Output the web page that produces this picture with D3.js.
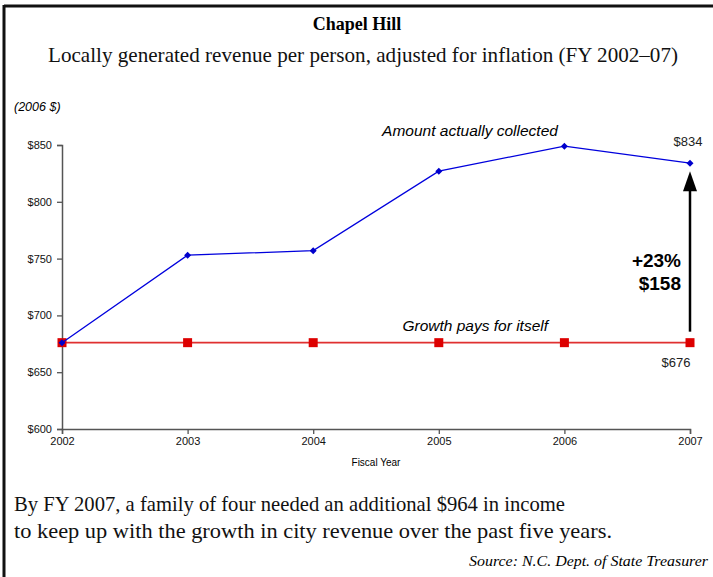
<!DOCTYPE html>
<html>
<head>
    <title>Chapel Hill revenue</title>
    <script src="https://cdnjs.cloudflare.com/ajax/libs/d3/7.8.5/d3.min.js"></script>
    <style>
        html, body {
            margin: 0;
            padding: 0;
            background: white;
        }
        svg text.serif {
            font-family: 'Liberation Serif', 'DejaVu Serif', serif;
        }
        svg text.sans {
            font-family: 'Liberation Sans', Arial, sans-serif;
        }
    </style>
</head>
<body>
    <div id="chart"></div>
    <script>
        const years = [2002, 2003, 2004, 2005, 2006, 2007];
        const collected = [676, 753, 757, 827, 849, 834];
        const growthPays = [676, 676, 676, 676, 676, 676];
        const yTicks = [600, 650, 700, 750, 800, 850];

        const width = 713, height = 577;
        const svg = d3.select("#chart")
            .append("svg")
            .attr("width", width)
            .attr("height", height);

        // frame (only top and left edges show)
        svg.append("line").attr("x1", 4).attr("x2", width).attr("y1", 6).attr("y2", 6)
            .attr("stroke", "#111").attr("stroke-width", 3);
        svg.append("line").attr("x1", 4).attr("x2", 4).attr("y1", 5).attr("y2", height)
            .attr("stroke", "#111").attr("stroke-width", 3);

        const x = d3.scaleLinear().domain([2002, 2007]).range([62, 690]);
        const y = d3.scaleLinear().domain([600, 850]).range([429, 145]);

        // titles
        svg.append("text").attr("class", "serif")
            .attr("x", 357).attr("y", 30)
            .attr("text-anchor", "middle")
            .attr("font-size", 18).attr("font-weight", "bold")
            .text("Chapel Hill");
        svg.append("text").attr("class", "serif")
            .attr("x", 48).attr("y", 62)
            .attr("font-size", 21)
            .attr("fill", "#111")
            .attr("textLength", 630).attr("lengthAdjust", "spacingAndGlyphs")
            .text("Locally generated revenue per person, adjusted for inflation (FY 2002\u201307)");

        svg.append("text").attr("class", "sans")
            .attr("x", 14).attr("y", 111)
            .attr("font-size", 12.5).attr("font-style", "italic")
            .text("(2006 $)");

        // axes
        const yAxis = svg.append("g")
            .attr("transform", "translate(62,0)")
            .call(d3.axisLeft(y).tickValues(yTicks).tickSize(5).tickFormat(d => "$" + d));
        const xAxis = svg.append("g")
            .attr("transform", "translate(0,429)")
            .call(d3.axisBottom(x).tickValues(years).tickSize(5).tickFormat(d3.format("d")));

        [yAxis, xAxis].forEach(g => {
            g.select(".domain").attr("stroke", "#555").attr("stroke-width", 1.5);
            g.selectAll(".tick line").attr("stroke", "#555").attr("stroke-width", 1.3);
            g.selectAll("text")
                .attr("font-family", "'Liberation Sans', Arial, sans-serif")
                .attr("font-size", 11)
                .attr("fill", "#111");
        });
        yAxis.selectAll("text").attr("x", -10);
        xAxis.selectAll("text").attr("y", 8);

        svg.append("text").attr("class", "sans")
            .attr("x", 376).attr("y", 466)
            .attr("text-anchor", "middle")
            .attr("font-size", 10)
            .text("Fiscal Year");

        // red flat line
        const line = d3.line()
            .x((d, i) => x(years[i]))
            .y(d => y(d));

        svg.append("path")
            .datum(growthPays)
            .attr("d", line)
            .attr("fill", "none")
            .attr("stroke", "#e03030")
            .attr("stroke-width", 1.6);

        svg.selectAll("rect.red")
            .data(growthPays)
            .enter()
            .append("rect")
            .attr("class", "red")
            .attr("x", (d, i) => x(years[i]) - 4.5)
            .attr("y", d => y(d) - 4.5)
            .attr("width", 9)
            .attr("height", 9)
            .attr("fill", "#dd0000");

        // blue collected line
        svg.append("path")
            .datum(collected)
            .attr("d", line)
            .attr("fill", "none")
            .attr("stroke", "#0000dd")
            .attr("stroke-width", 1.3);

        svg.selectAll("path.diamond")
            .data(collected)
            .enter()
            .append("path")
            .attr("class", "diamond")
            .attr("transform", (d, i) => `translate(${x(years[i])},${y(d)})`)
            .attr("d", "M0,-3.5L3.5,0L0,3.5L-3.5,0Z")
            .attr("fill", "#0000cc");

        // annotations
        svg.append("text").attr("class", "sans")
            .attr("x", 470).attr("y", 136)
            .attr("text-anchor", "middle")
            .attr("font-size", 15.5).attr("font-style", "italic")
            .text("Amount actually collected");

        svg.append("text").attr("class", "sans")
            .attr("x", x(2007) - 2).attr("y", y(collected[5]) - 17)
            .attr("text-anchor", "middle")
            .attr("font-size", 13)
            .attr("fill", "#222")
            .text("$" + collected[5]);

        svg.append("text").attr("class", "sans")
            .attr("x", 548).attr("y", y(676) - 12)
            .attr("text-anchor", "end")
            .attr("font-size", 15.5).attr("font-style", "italic")
            .text("Growth pays for itself");

        svg.append("text").attr("class", "sans")
            .attr("x", 676).attr("y", y(676) + 24)
            .attr("text-anchor", "middle")
            .attr("font-size", 13)
            .attr("fill", "#222")
            .text("$" + growthPays[5]);

        // arrow from $676 up to $834
        const ax = x(2007);
        svg.append("line")
            .attr("x1", ax).attr("x2", ax)
            .attr("y1", y(676) - 11).attr("y2", y(collected[5]) + 20)
            .attr("stroke", "black").attr("stroke-width", 2.5);
        svg.append("path")
            .attr("d", `M${ax},${y(collected[5]) + 8}L${ax + 7},${y(collected[5]) + 28}L${ax - 7},${y(collected[5]) + 28}Z`)
            .attr("fill", "black");

        const pct = Math.round((collected[5] - growthPays[5]) / growthPays[5] * 100);
        svg.append("text").attr("class", "sans")
            .attr("x", 681).attr("y", 267)
            .attr("text-anchor", "end")
            .attr("font-size", 19).attr("font-weight", "bold")
            .text("+" + pct + "%");
        svg.append("text").attr("class", "sans")
            .attr("x", 681).attr("y", 290)
            .attr("text-anchor", "end")
            .attr("font-size", 19).attr("font-weight", "bold")
            .text("$" + (collected[5] - growthPays[5]));

        // footnote
        svg.append("text").attr("class", "serif")
            .attr("x", 14).attr("y", 511)
            .attr("font-size", 21)
            .attr("fill", "#111")
            .attr("textLength", 551).attr("lengthAdjust", "spacingAndGlyphs")
            .text("By FY 2007, a family of four needed an additional $964 in income");
        svg.append("text").attr("class", "serif")
            .attr("x", 14).attr("y", 538)
            .attr("font-size", 21)
            .attr("fill", "#111")
            .attr("textLength", 598).attr("lengthAdjust", "spacingAndGlyphs")
            .text("to keep up with the growth in city revenue over the past five years.");

        svg.append("text").attr("class", "serif")
            .attr("x", 708).attr("y", 566)
            .attr("text-anchor", "end")
            .attr("font-size", 15.5).attr("font-style", "italic")
            .attr("textLength", 239).attr("lengthAdjust", "spacingAndGlyphs")
            .text("Source: N.C. Dept. of State Treasurer");
    </script>
</body>
</html>
